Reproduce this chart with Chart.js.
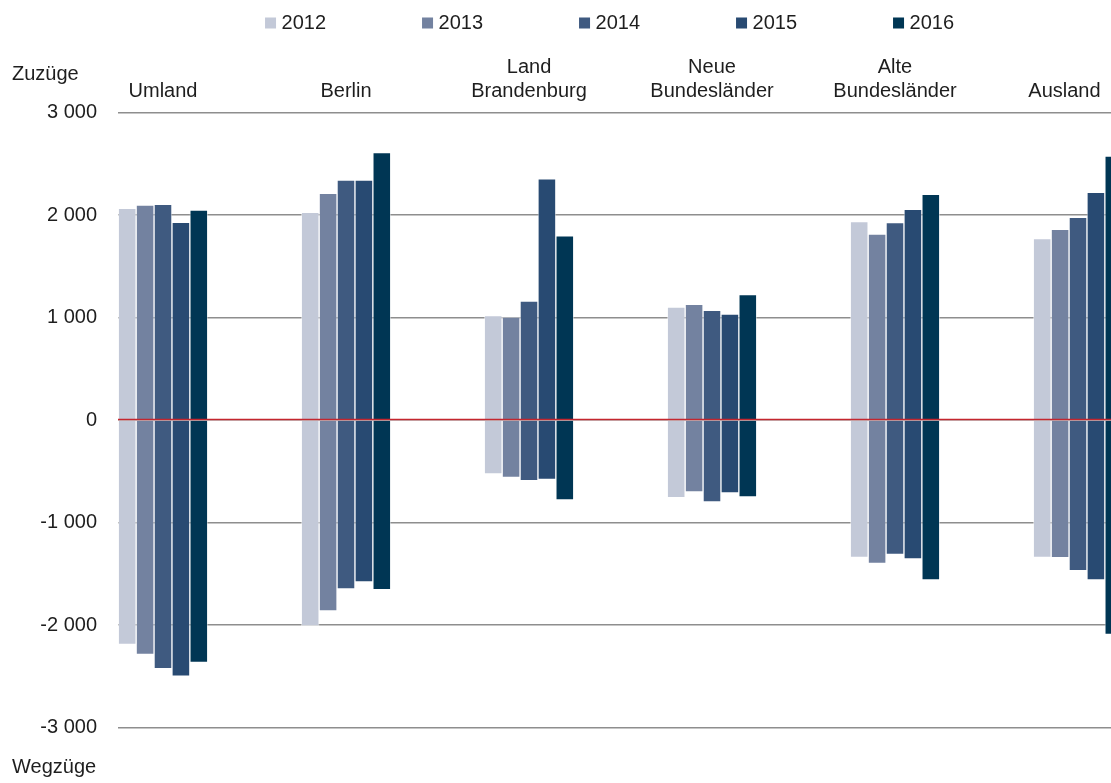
<!DOCTYPE html>
<html>
<head>
<meta charset="utf-8">
<script src="https://cdn.jsdelivr.net/npm/chart.js@4"></script>
<style>
  html, body { margin: 0; padding: 0; background: #fff; overflow: hidden; }
  #wrap { width: 1111px; height: 783px; }
</style>
</head>
<body>
<div id="wrap"><canvas id="wanderungChart"></canvas></div>
<script>
// Kategorien und Jahre
const regions = ['Umland', 'Berlin', ['Land', 'Brandenburg'], ['Neue', 'Bundesländer'], ['Alte', 'Bundesländer'], 'Ausland'];
const years = ['2012', '2013', '2014', '2015', '2016'];

// Zuzüge (positiv) je Jahr, Reihenfolge wie regions
const zuzuege2012 = [2065, 2026, 1018, 1102, 1935, 1769];
const zuzuege2013 = [2098, 2211, 1005, 1128, 1815, 1860];
const zuzuege2014 = [2104, 2341, 1161, 1070, 1925, 1977];
const zuzuege2015 = [1929, 2341, 2354, 1034, 2055, 2221];
const zuzuege2016 = [2049, 2608, 1798, 1223, 2202, 2576];

// Wegzüge (negativ) je Jahr
const wegzuege2012 = [-2189, -2010, -527, -758, -1340, -1340];
const wegzuege2013 = [-2286, -1863, -559, -702, -1398, -1343];
const wegzuege2014 = [-2426, -1649, -592, -800, -1311, -1470];
const wegzuege2015 = [-2498, -1580, -579, -712, -1356, -1561];
const wegzuege2016 = [-2364, -1655, -780, -751, -1561, -2091];

// y-Achse
const yTicks = [3000, 2000, 1000, 0, -1000, -2000, -3000];

const zuzuege = [zuzuege2012, zuzuege2013, zuzuege2014, zuzuege2015, zuzuege2016];
const wegzuege = [wegzuege2012, wegzuege2013, wegzuege2014, wegzuege2015, wegzuege2016];
const yearColors = ['#c3c9d8', '#7382a0', '#3f5a80', '#284a72', '#003654'];

Chart.defaults.font.family = "'Liberation Sans', Arial, sans-serif";
Chart.defaults.font.size = 20;
Chart.defaults.color = '#1e1e1e';

function toPoints(values) {
    return values.map((v, i) => ({ x: i, y: v }));
}

const datasets = [];
years.forEach((year, k) => {
    datasets.push({
        label: year,
        stack: year,
        data: toPoints(zuzuege[k]),
        backgroundColor: yearColors[k],
        borderColor: 'rgba(255,255,255,0.45)',
        borderWidth: 1,
        barThickness: 17.9
    });
    datasets.push({
        label: year + ' Wegzüge',
        stack: year,
        data: toPoints(wegzuege[k]),
        backgroundColor: yearColors[k],
        borderColor: 'rgba(255,255,255,0.45)',
        borderWidth: 1,
        barThickness: 17.9
    });
});

function formatThousands(v) {
    if (v === 0) return '0';
    return (v < 0 ? '-' : '') + Math.abs(v / 1000) + ' 000';
}

// eigene Legende oben
const legendPlugin = {
    id: 'jahreLegende',
    afterDraw(chart) {
        const ctx = chart.ctx;
        const area = chart.chartArea;
        const step = 157;
        ctx.save();
        ctx.font = "20px 'Liberation Sans', Arial, sans-serif";
        const total = step * (years.length - 1) + 16.5 + ctx.measureText(years[years.length - 1]).width;
        const x0 = area.left + (area.right - area.left) * 0.495 - total / 2;
        ctx.textBaseline = 'middle';
        ctx.textAlign = 'left';
        years.forEach((year, k) => {
            const x = x0 + k * step;
            ctx.fillStyle = yearColors[k];
            ctx.fillRect(x, 17.5, 11, 11);
            ctx.fillStyle = '#1e1e1e';
            ctx.fillText(year, x + 16.5, 23);
        });
        ctx.restore();
    }
};

// Nulllinie rot, Achsentitel Zuzüge / Wegzüge
const extrasPlugin = {
    id: 'extras',
    afterDatasetsDraw(chart) {
        const ctx = chart.ctx;
        const area = chart.chartArea;
        const y0 = chart.scales.y.getPixelForValue(0);
        ctx.save();
        ctx.strokeStyle = '#c4262e';
        ctx.lineWidth = 1.6;
        ctx.beginPath();
        ctx.moveTo(area.left, y0 - 0.5);
        ctx.lineTo(area.right, y0 - 0.5);
        ctx.stroke();
        ctx.restore();
    },
    afterDraw(chart) {
        const ctx = chart.ctx;
        const area = chart.chartArea;
        ctx.save();
        ctx.font = "20px 'Liberation Sans', Arial, sans-serif";
        ctx.fillStyle = '#1e1e1e';
        ctx.textAlign = 'left';
        ctx.textBaseline = 'alphabetic';
        ctx.fillText('Zuzüge', 12, area.top - 33);
        ctx.fillText('Wegzüge', 12, area.bottom + 45);
        ctx.restore();
    }
};

const ctx = document.getElementById('wanderungChart').getContext('2d');
const chart = new Chart(ctx, {
    type: 'bar',
    data: { datasets: datasets },
    plugins: [legendPlugin, extrasPlugin],
    options: {
        responsive: true,
        maintainAspectRatio: false,
        animation: false,
        layout: {
            padding: { top: 45, bottom: 55.5, left: 0, right: 0 }
        },
        plugins: {
            legend: { display: false },
            tooltip: { enabled: false }
        },
        scales: {
            x: {
                type: 'linear',
                position: 'top',
                offset: false,
                min: -0.2459,
                max: 5.1803,
                grid: { display: false, offset: false, drawTicks: false },
                border: { display: false },
                afterBuildTicks: (scale) => {
                    // Ausland-Beschriftung etwas nach links, damit sie nicht abgeschnitten wird
                    scale.ticks = [0, 1, 2, 3, 4, 4.926].map(v => ({ value: v }));
                },
                afterFit: (scale) => {
                    scale.height = 67.5;
                    scale.paddingLeft = 0;
                    scale.paddingRight = 0;
                },
                ticks: {
                    autoSkip: false,
                    maxRotation: 0,
                    minRotation: 0,
                    padding: 9,
                    font: { size: 20, lineHeight: 1.2 },
                    callback: (value, index) => regions[index]
                }
            },
            y: {
                stacked: true,
                min: -3000,
                max: 3000,
                afterBuildTicks: (scale) => {
                    scale.ticks = yTicks.map(v => ({ value: v }));
                },
                afterFit: (scale) => {
                    scale.width = 118;
                    scale.paddingTop = 0;
                    scale.paddingBottom = 0;
                },
                border: { display: false },
                grid: {
                    color: '#8e8e8e',
                    lineWidth: 1.6,
                    drawTicks: false
                },
                ticks: {
                    padding: 21,
                    font: { size: 20 },
                    callback: (value) => formatThousands(value)
                }
            }
        }
    }
});
</script>
</body>
</html>
